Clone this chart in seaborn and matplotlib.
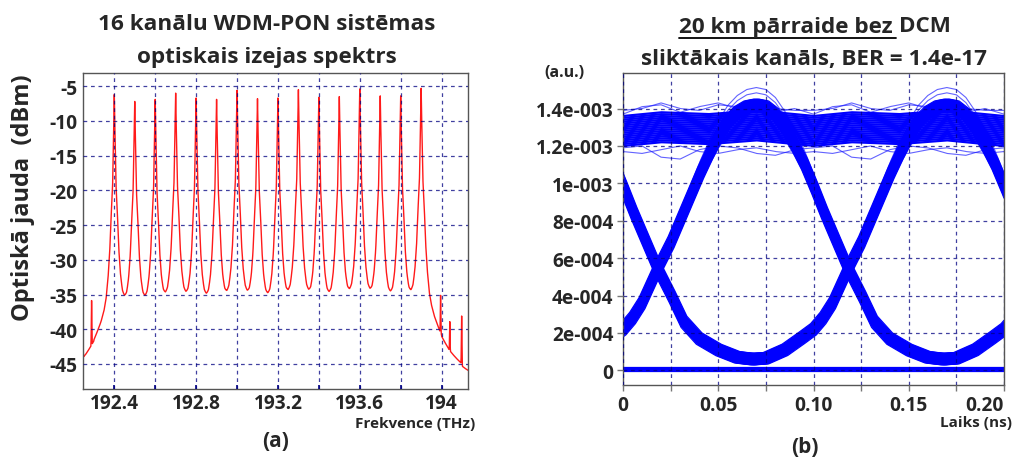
import numpy as np
import pandas as pd
import matplotlib
matplotlib.use("Agg")
import matplotlib.pyplot as plt
import seaborn as sns
from matplotlib.lines import Line2D

# ---------------- (a) optical spectrum data ----------------
peak_freq_thz = [192.4, 192.5, 192.6, 192.7, 192.8, 192.9, 193.0, 193.1,
                 193.2, 193.3, 193.4, 193.5, 193.6, 193.7, 193.8, 193.9]
peak_power_dbm = [-6.2, -7.2, -6.9, -6.0, -6.7, -6.9, -5.6, -6.8,
                  -6.7, -5.5, -6.6, -6.5, -5.4, -6.4, -6.4, -5.3]
# single-channel line shape (offset from centre, dB below peak)
shape_offset_thz = [0.0, 0.001, 0.003, 0.005, 0.008, 0.012, 0.017, 0.022,
                    0.030, 0.040, 0.050, 0.065, 0.080, 0.10, 0.14, 0.20, 0.30]
shape_rel_db = [0.0, -2.0, -5.0, -8.0, -12.8, -15.5, -18.5, -22.5,
                -26.5, -30.0, -32.0, -34.0, -35.5, -37.5, -40.5, -44.0, -50.0]
spur_freq_thz = [192.246, 192.289, 193.995, 194.040, 194.098]
spur_power_dbm = [-40.5, -37.0, -36.6, -41.0, -39.1]
spur_offset_thz = [0.0, 0.001, 0.002, 0.0035]
spur_rel_db = [0.0, -3.0, -8.0, -20.0]
noise_floor_dbm = -47.5
spec_xticks = [192.4, 192.8, 193.2, 193.6, 194.0]
spec_xtick_labels = ["192.4", "192.8", "193.2", "193.6", "194"]
spec_xminor = [192.6, 193.0, 193.4, 193.8]
spec_yticks = [-45, -40, -35, -30, -25, -20, -15, -10, -5]
spec_ytick_labels = ["-45", "-40", "-35", "-30", "-25", "-20", "-15", "-10", "-5"]

# ---------------- (b) eye diagram data ----------------
# one 0.2 ns period of the arc waveform (time ns, amplitude a.u.)
arc_t_ns = [0.000, 0.005, 0.010, 0.018, 0.025, 0.030, 0.035, 0.040, 0.045, 0.050,
            0.055, 0.060, 0.065, 0.070, 0.075, 0.080, 0.085, 0.090, 0.095, 0.100,
            0.105, 0.110, 0.118, 0.125, 0.132, 0.140, 0.150, 0.160, 0.168, 0.175,
            0.185, 0.192]
arc_level = [2.2e-4, 2.8e-4, 3.6e-4, 5.4e-4, 6.8e-4, 8.0e-4, 9.2e-4, 1.04e-3, 1.15e-3, 1.25e-3,
             1.33e-3, 1.38e-3, 1.41e-3, 1.42e-3, 1.41e-3, 1.37e-3, 1.30e-3, 1.21e-3, 1.11e-3, 0.99e-3,
             0.86e-3, 0.74e-3, 5.5e-4, 4.1e-4, 2.6e-4, 1.7e-4, 1.1e-4, 7e-5, 6e-5, 6.5e-5,
             1.1e-4, 1.6e-4]
arc_phase_ns = [0.0, 0.1]
arc_time_jitter_ns = [-0.0015, -0.00075, 0.0, 0.00075, 0.0015]
arc_amp_offsets = [-3.0e-5, -2.2e-5, -1.5e-5, -0.7e-5, 0.0, 0.7e-5, 1.5e-5, 2.2e-5, 3.0e-5]
arc_outline_gains = [0.045, 0.065, -0.05]
# "1" level band (period 0.1 ns)
hi_t_ns = [0.0, 0.02, 0.045, 0.07]
hi_level = [1.28e-3, 1.30e-3, 1.29e-3, 1.31e-3]
hi_offsets = [-8e-5, -7e-5, -6e-5, -5e-5, -4e-5, -3e-5, -2e-5, -1e-5, 0.0,
              1e-5, 2e-5, 3e-5, 4e-5, 5e-5, 6e-5, 7e-5, 8e-5]
stray_t_ns = [0.0, 0.01, 0.02, 0.03, 0.04, 0.05, 0.06, 0.07, 0.08, 0.09]
stray_levels = [
    [1.39e-3, 1.40e-3, 1.43e-3, 1.40e-3, 1.39e-3, 1.42e-3, 1.41e-3, 1.40e-3, 1.40e-3, 1.39e-3],
    [1.37e-3, 1.41e-3, 1.42e-3, 1.38e-3, 1.41e-3, 1.43e-3, 1.40e-3, 1.39e-3, 1.38e-3, 1.40e-3],
    [1.17e-3, 1.16e-3, 1.18e-3, 1.20e-3, 1.17e-3, 1.16e-3, 1.18e-3, 1.19e-3, 1.17e-3, 1.16e-3],
    [1.19e-3, 1.20e-3, 1.14e-3, 1.13e-3, 1.18e-3, 1.20e-3, 1.19e-3, 1.16e-3, 1.15e-3, 1.18e-3],
]
# "0" level band
lo_level = 0.9e-5
lo_offsets = [-1.0e-5, -0.5e-5, 0.0, 0.5e-5, 1.0e-5]
eye_xticks = [0.0, 0.05, 0.10, 0.15, 0.20]
eye_xtick_labels = ["0", "0.05", "0.10", "0.15", "0.20"]
eye_xminor = [0.025, 0.075, 0.125, 0.175]
eye_yticks = [0.0, 2e-4, 4e-4, 6e-4, 8e-4, 1e-3, 1.2e-3, 1.4e-3]
eye_ytick_labels = ["0", "2e-004", "4e-004", "6e-004", "8e-004", "1e-003", "1.2e-003", "1.4e-003"]

# ---------------- style ----------------
sns.set_theme(style="white")
plt.rcParams['font.family'] = ['Open Sans', 'DejaVu Sans']
plt.rcParams['font.weight'] = 'bold'
plt.rcParams['axes.labelweight'] = 'bold'

W, H = 1016, 464
fig = plt.figure(figsize=(W / 100, H / 100), dpi=100)

def box(l, t, r, b):
    return [l / W, 1 - b / H, (r - l) / W, (b - t) / H]

ax1 = fig.add_axes(box(83, 74, 468, 390))
ax2 = fig.add_axes(box(623, 74, 1004, 386))

grid_kw = dict(color='#000080', alpha=0.75, lw=0.9, ls=(0, (3, 3)))
TICK_FS = 13.8

# ---------------- (a) spectrum ----------------
grid = np.arange(192.247, 194.13, 0.0004)
freq = np.union1d(grid, np.array(peak_freq_thz + spur_freq_thz))
lin = np.full_like(freq, 10 ** (noise_floor_dbm / 10))
for fc, p in zip(peak_freq_thz, peak_power_dbm):
    rel = np.interp(np.abs(freq - fc), shape_offset_thz, shape_rel_db, right=-90)
    lin += 10 ** ((p + rel) / 10)
for fc, p in zip(spur_freq_thz, spur_power_dbm):
    rel = np.interp(np.abs(freq - fc), spur_offset_thz, spur_rel_db, right=-120)
    lin += 10 ** ((p + rel) / 10)
spec_df = pd.DataFrame({"f": freq, "p": 10 * np.log10(lin)})
sns.lineplot(data=spec_df, x="f", y="p", ax=ax1, color="#ff1a1a", lw=1.0,
             estimator=None, sort=False, legend=False)
ax1.set_xlim(192.247, 194.129)
ax1.set_ylim(-48.6, -3.1)
ax1.set_xticks(spec_xticks)
ax1.set_xticklabels(spec_xtick_labels)
ax1.set_xticks(spec_xminor, minor=True)
ax1.set_yticks(spec_yticks)
ax1.set_yticklabels(spec_ytick_labels)
ax1.set_xlabel("")
ax1.set_ylabel("")
ax1.grid(True, which='both', axis='x', **grid_kw)
ax1.grid(True, which='major', axis='y', **grid_kw)
ax1.set_axisbelow(False)
ax1.tick_params(axis='x', which='both', direction='in', length=3, width=1.2,
                color='#000080', labelsize=TICK_FS, pad=3, bottom=True)
ax1.tick_params(axis='y', length=0, labelsize=TICK_FS, pad=4)
for s in ax1.spines.values():
    s.set_color('#555555')
    s.set_linewidth(1.0)

# ---------------- (b) eye diagram ----------------
t = np.linspace(0.0, 0.2, 801)

def arc(tt):
    return np.interp(tt, arc_t_ns, arc_level, period=0.2)

rows = []
tid = 0
for ph in arc_phase_ns:
    for dj in arc_time_jitter_ns:
        for da in arc_amp_offsets:
            rows.append(pd.DataFrame({"t": t, "v": arc(t + ph - dj) + da, "u": tid}))
            tid += 1
for off in lo_offsets:
    rows.append(pd.DataFrame({"t": t, "v": np.full_like(t, lo_level + off), "u": tid}))
    tid += 1
arc_df = pd.concat(rows, ignore_index=True)

rows = []
for off in hi_offsets:
    rows.append(pd.DataFrame({"t": t, "v": np.interp(t, hi_t_ns, hi_level, period=0.1) + off, "u": tid}))
    tid += 1
hi_df = pd.concat(rows, ignore_index=True)

rows = []
for ph in arc_phase_ns:
    for g in arc_outline_gains:
        rows.append(pd.DataFrame({"t": t, "v": arc(t + ph) * (1 + g), "u": tid}))
        tid += 1
for lv in stray_levels:
    rows.append(pd.DataFrame({"t": t, "v": np.interp(t, stray_t_ns, lv, period=0.1), "u": tid}))
    tid += 1
out_df = pd.concat(rows, ignore_index=True)

sns.lineplot(data=out_df, x="t", y="v", units="u", estimator=None, ax=ax2,
             color="#2020ff", lw=0.8, alpha=0.7, legend=False, sort=False)
sns.lineplot(data=hi_df, x="t", y="v", units="u", estimator=None, ax=ax2,
             color="#0000ff", lw=1.6, legend=False, sort=False)
sns.lineplot(data=arc_df, x="t", y="v", units="u", estimator=None, ax=ax2,
             color="#0000ff", lw=0.9, legend=False, sort=False)

ax2.set_xlim(0.0, 0.2)
ax2.set_ylim(-7.8e-5, 1.59e-3)
ax2.set_xticks(eye_xticks)
ax2.set_xticklabels(eye_xtick_labels)
ax2.set_xticks(eye_xminor, minor=True)
ax2.set_yticks(eye_yticks)
ax2.set_yticklabels(eye_ytick_labels)
ax2.get_xticklabels()[-1].set_horizontalalignment('right')
ax2.set_xlabel("")
ax2.set_ylabel("")
ax2.grid(True, which='both', axis='x', **grid_kw)
ax2.grid(True, which='major', axis='y', **grid_kw)
ax2.set_axisbelow(False)
ax2.tick_params(axis='x', which='both', direction='out', length=4, width=1,
                color='#777777', labelsize=TICK_FS, pad=3, bottom=True)
ax2.tick_params(axis='y', direction='out', length=4, width=1, color='#777777',
                labelsize=TICK_FS, pad=3, left=True)
for s in ax2.spines.values():
    s.set_color('#555555')
    s.set_linewidth(1.0)

# ---------------- texts ----------------
def ftxt(x, y, s, **kw):
    return fig.text(x / W, 1 - y / H, s, fontweight='bold', **kw)

TITLE_FS = 16.2
ftxt(267, 25, "16 kanālu WDM-PON sistēmas", fontsize=TITLE_FS, ha='center', va='center')
ftxt(267, 57, "optiskais izejas spektrs", fontsize=TITLE_FS, ha='center', va='center')
ftxt(23, 198, "Optiskā jauda  (dBm)", fontsize=17, ha='center', va='center', rotation=90)
ftxt(475, 424, "Frekvence (THz)", fontsize=11, ha='right', va='center')
ftxt(276, 442, "(a)", fontsize=15, ha='center', va='center')

ftxt(564, 73, "(a.u.)", fontsize=11.5, ha='center', va='center')
ftxt(1012, 423, "Laiks (ns)", fontsize=11, ha='right', va='center')
ftxt(805, 448, "(b)", fontsize=15, ha='center', va='center')
ftxt(814, 60, "sliktākais kanāls, BER = 1.4e-17", fontsize=TITLE_FS, ha='center', va='center')

tA = ftxt(0, 27, "20 km pārraide bez ", fontsize=TITLE_FS, ha='left', va='center')
tB = ftxt(0, 27, "DCM", fontsize=TITLE_FS, ha='left', va='center')
fig.canvas.draw()
r = fig.canvas.get_renderer()
wA = tA.get_window_extent(r).width
wB = tB.get_window_extent(r).width
x0 = 815 - (wA + wB) / 2
tA.set_x(x0 / W)
tB.set_x((x0 + wA) / W)
fig.add_artist(Line2D([x0 / W, (x0 + wA - 3) / W], [1 - 39 / H, 1 - 39 / H],
                      transform=fig.transFigure, color='black', lw=1.3))

fig.savefig("out.png", dpi=100)
